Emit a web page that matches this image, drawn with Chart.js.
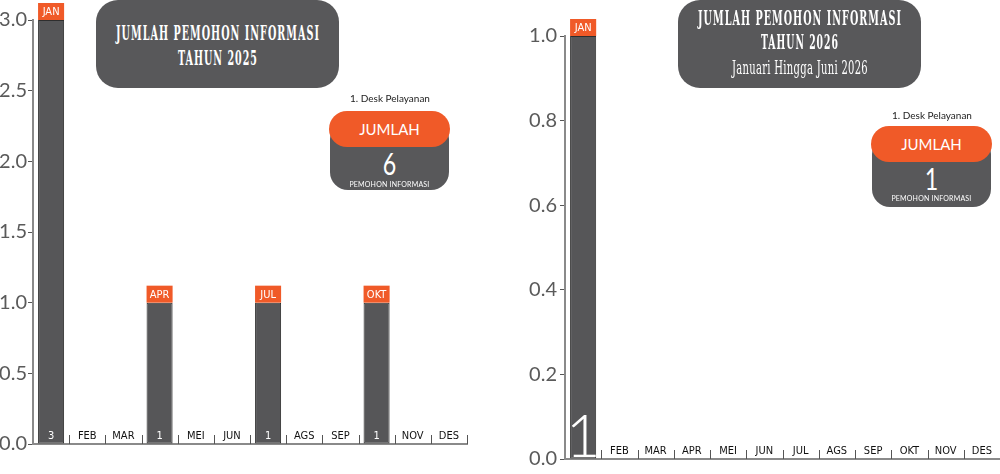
<!DOCTYPE html>
<html>
<head>
<meta charset="utf-8">
<script src="https://cdn.jsdelivr.net/npm/chart.js@4"></script>
<style>
  body { margin: 0; background: #fff; }
  #wrap { position: relative; width: 1000px; height: 474px; overflow: hidden; }
  canvas { position: absolute; top: 0; }
  .title {
    position: absolute; top: 0; width: 243px; height: 88px; background: #58585a; border-radius: 22px;
    color: #fff; z-index: 2;
    font-family: "DejaVu Serif Condensed", "DejaVu Serif", serif; font-weight: bold;
  }
  .title span {
    position: absolute; left: 50%; white-space: nowrap; line-height: 22px; font-size: 21px;
    letter-spacing: 2px; transform-origin: 0 0;
  }
  .desk { position: absolute; font-family: Lato, sans-serif; font-size: 10px; color: #222; z-index: 2; width: 120px; text-align: center; }
  .pill { position: absolute; width: 119px; z-index: 2; font-family: Lato, sans-serif; color: #fff; text-align: center; }
  .pill .g { position: absolute; left: 0; right: 0; top: 10px; bottom: 0; background: #58585a; border-radius: 18px; }
  .pill .o { position: absolute; left: -1px; right: -1px; top: 0; height: 36px; background: #f05a28; border-radius: 18px; font-size: 15px; line-height: 37px; }
  .pill .n { position: absolute; left: 0; right: 0; font-weight: 400; font-size: 31px; line-height: 30px; transform: scaleX(0.75); }
  .pill .s { position: absolute; left: 0; right: 0; font-size: 7px; line-height: 7px; letter-spacing: 0.2px; }
</style>
</head>
<body>
<div id="wrap">
  <canvas id="chart2025" width="480" height="474" style="left:0"></canvas>
  <canvas id="chart2026" width="500" height="474" style="left:500px"></canvas>

  <div class="title" style="left:96px;">
    <span data-w="204" style="top:22px;">JUMLAH PEMOHON INFORMASI</span>
    <span data-w="80" style="top:47px;">TAHUN 2025</span>
  </div>
  <div class="desk" style="left:330px; top:92px;">1. Desk Pelayanan</div>
  <div class="pill" style="left:330px; top:111px; height:79px;">
    <div class="g"></div>
    <div class="o">JUMLAH</div>
    <div class="n" style="top:37px;">6</div>
    <div class="s" style="top:70px;">PEMOHON INFORMASI</div>
  </div>

  <div class="title" style="left:678px;">
    <span data-w="204" style="top:7px;">JUMLAH PEMOHON INFORMASI</span>
    <span data-w="78" style="top:31px;">TAHUN 2026</span>
    <span data-w="136" style="top:58px; font-size:18px; line-height:20px; letter-spacing:0.5px; font-weight:normal;">Januari Hingga Juni 2026</span>
  </div>
  <div class="desk" style="left:872px; top:109px;">1. Desk Pelayanan</div>
  <div class="pill" style="left:872px; top:126px; height:81px;">
    <div class="g"></div>
    <div class="o">JUMLAH</div>
    <div class="n" style="top:37px;">1</div>
    <div class="s" style="top:69px;">PEMOHON INFORMASI</div>
  </div>
</div>

<script>
// Bulan dan jumlah pemohon per bulan
const months = ['JAN', 'FEB', 'MAR', 'APR', 'MEI', 'JUN', 'JUL', 'AGS', 'SEP', 'OKT', 'NOV', 'DES'];
const values2025 = [3, 0, 0, 1, 0, 0, 1, 0, 0, 1, 0, 0];
const values2026 = [1, 0, 0, 0, 0, 0, 0, 0, 0, 0, 0, 0];
// Batas dan langkah sumbu Y
const yMax2025 = 3, yStep2025 = 0.5;
const yMax2026 = 1, yStep2026 = 0.2;

const orange = '#f05a28';
const barGray = '#565658';

// Judul dipadatkan supaya lebarnya sama dengan gambar asli
document.querySelectorAll('.title span').forEach((el) => {
  const w = el.getBoundingClientRect().width;
  const s = Number(el.dataset.w) / w;
  el.style.transform = 'scaleX(' + s + ') translateX(-50%)';
});

// Plugin untuk label bulan, kotak oranye dan garis pemisah
const monthDecor = {
  id: 'monthDecor',
  afterDatasetsDraw(chart, args, opts) {
    const ctx = chart.ctx;
    const xs = chart.scales.x;
    const meta = chart.getDatasetMeta(0);
    const values = chart.data.datasets[0].data;
    const slot = xs.getPixelForValue(1) - xs.getPixelForValue(0);
    const base = chart.scales.y.getPixelForValue(0);
    ctx.save();
    ctx.textAlign = 'center';
    values.forEach((v, i) => {
      const x = xs.getPixelForValue(i);
      if (v > 0) {
        const bar = meta.data[i];
        const w = bar.width;
        ctx.fillStyle = orange;
        ctx.fillRect(bar.x - w / 2, bar.y - 17, w, 17);
        ctx.fillStyle = '#fff';
        ctx.textBaseline = 'middle';
        ctx.font = '11px "DejaVu Sans Condensed", sans-serif';
        ctx.fillText(chart.data.labels[i], bar.x, bar.y - 8);
        ctx.textBaseline = 'alphabetic';
        ctx.font = opts.valueFont;
        ctx.fillText(String(v), bar.x, base - opts.valueOffset);
      } else {
        ctx.fillStyle = '#111';
        ctx.textBaseline = 'alphabetic';
        ctx.font = '11px "DejaVu Sans Condensed", sans-serif';
        ctx.fillText(chart.data.labels[i], x, base - 5);
      }
      // garis pemisah
      const sx = Math.round(x + slot / 2) + 0.5;
      ctx.strokeStyle = '#555';
      ctx.lineWidth = 1;
      ctx.beginPath();
      ctx.moveTo(sx, base);
      ctx.lineTo(sx, base - 9);
      ctx.stroke();
    });
    ctx.restore();
  }
};

function makeChart(id, values, yMax, yStep, pad, yWidth, tickPad, valueFont, valueOffset) {
  const ctx = document.getElementById(id).getContext('2d');
  return new Chart(ctx, {
    type: 'bar',
    data: {
      labels: months,
      datasets: [{
        data: values,
        backgroundColor: barGray,
        borderColor: '#2e2e2e',
        borderWidth: 1,
        borderSkipped: false,
        categoryPercentage: 1,
        barPercentage: 0.72
      }]
    },
    options: {
      responsive: false,
      animation: false,
      layout: { padding: pad },
      plugins: {
        legend: { display: false },
        tooltip: { enabled: false },
        monthDecor: { valueFont: valueFont, valueOffset: valueOffset }
      },
      scales: {
        x: {
          ticks: { display: false },
          grid: { display: false, drawTicks: false },
          border: { display: true, color: '#8a8a8a', width: 2 },
          afterFit: (s) => { s.height = 0; }
        },
        y: {
          min: 0,
          max: yMax,
          ticks: {
            stepSize: yStep,
            padding: tickPad,
            color: '#5a5a5a',
            font: { family: 'Lato', weight: 400, size: 20 },
            callback: (v) => Number(v).toFixed(1)
          },
          grid: { drawOnChartArea: false, drawTicks: true, tickLength: 5, color: '#555' },
          border: { display: true, color: '#8a8a8a', width: 2 },
          afterFit: (s) => { s.width = yWidth; }
        }
      }
    },
    plugins: [monthDecor]
  });
}

makeChart('chart2025', values2025, yMax2025, yStep2025,
  { top: 20, bottom: 30, left: 0, right: 13 }, 33, 1, '11px "DejaVu Sans Condensed", sans-serif', 5);
makeChart('chart2026', values2026, yMax2026, yStep2026,
  { top: 36, bottom: 14, left: 0, right: 0 }, 65, 3, '300 60px Lato, sans-serif', 2);
</script>
</body>
</html>
